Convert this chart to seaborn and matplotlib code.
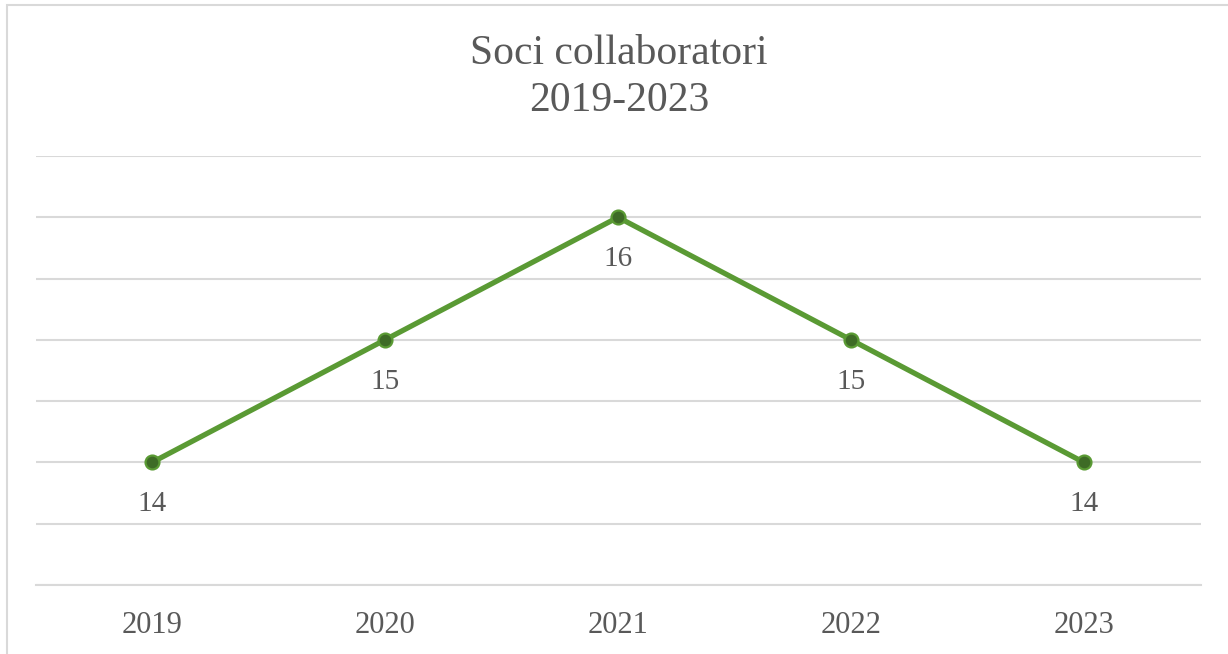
import pandas as pd
import numpy as np
import matplotlib.pyplot as plt
import matplotlib.patches as patches
import seaborn as sns

# chart data
years = ['2019', '2020', '2021', '2022', '2023']
soci = [14, 15, 16, 15, 14]
title_text = 'Soci collaboratori\n2019-2023'

df = pd.DataFrame({'anno': years, 'soci': soci})

sns.set_theme(style='white')
plt.rcParams['font.family'] = ['Liberation Serif', 'DejaVu Serif']

TEXT = '#595959'
GRID = '#D9D9D9'
LINE = '#5A9A34'
DOT = '#3E6B26'

fig = plt.figure(figsize=(12.28, 6.54), dpi=100)
ax = fig.add_axes([35.5 / 1228, 1 - 585 / 654, 1165 / 1228, (585 - 156) / 654])

sns.lineplot(data=df, x='anno', y='soci', ax=ax, color=LINE, linewidth=3.8,
             marker='o', markersize=10, markerfacecolor=DOT,
             markeredgecolor=LINE, markeredgewidth=1.6, zorder=3)

ax.set_xlim(-0.5, len(years) - 0.5)
ax.set_ylim(13, 16.5)
ax.set_yticks(np.arange(13, 16.51, 0.5))
ax.yaxis.grid(True, color=GRID, linewidth=1.5)
ax.set_axisbelow(True)
ax.tick_params(axis='y', left=False, labelleft=False)
ax.tick_params(axis='x', length=0, pad=19, labelsize=22, labelcolor=TEXT)
ax.set_xlabel('')
ax.set_ylabel('')
for side in ['top', 'right', 'left']:
    ax.spines[side].set_visible(False)
ax.spines['bottom'].set_color(GRID)
ax.spines['bottom'].set_linewidth(1.5)

for i, v in enumerate(soci):
    ax.annotate(str(v), (i, v), xytext=(0, -30), textcoords='offset points',
                ha='center', va='center', fontsize=21, color=TEXT)

fig.text(619 / 1228, 1 - 77 / 654, title_text, ha='center', va='center',
         fontsize=30, color=TEXT, linespacing=1.3)

# outer border of the chart area
fig.patches.append(patches.Rectangle((7 / 1228, -0.05), 1.1, 1 - 5 / 654 + 0.05,
                                     transform=fig.transFigure, fill=False,
                                     edgecolor=GRID, linewidth=1.5))

fig.savefig('out.png', dpi=100, facecolor='white')
